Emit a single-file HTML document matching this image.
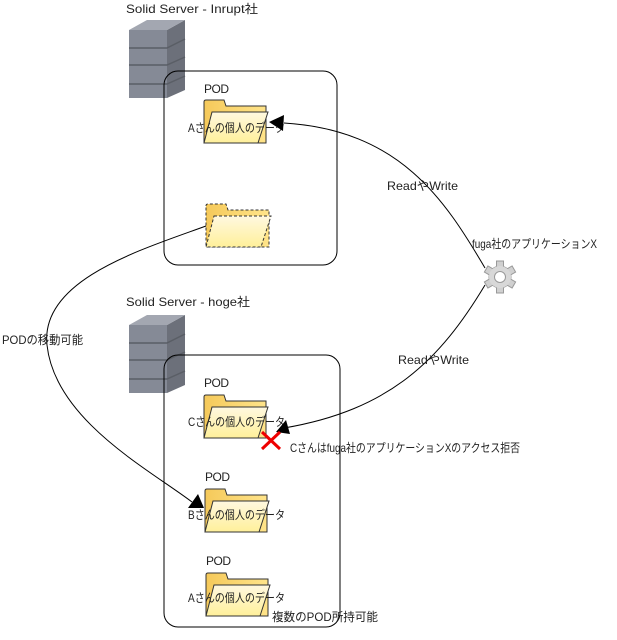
<!DOCTYPE html>
<html><head><meta charset="utf-8"><style>
body{margin:0;background:#fff;width:617px;height:635px;overflow:hidden;font-family:"Liberation Sans","Noto Sans CJK JP",sans-serif}
text{font-family:"Liberation Sans","Noto Sans CJK JP",sans-serif;font-size:12px;fill:#222}
</style></head><body>
<svg width="617" height="635" viewBox="0 0 617 635">
<defs>
<linearGradient id="fb" x1="0" y1="0" x2="1" y2="0"><stop offset="0" stop-color="#f5c95a"/><stop offset="1" stop-color="#ffe48a"/></linearGradient>
<linearGradient id="ff" x1="0" y1="0" x2="0" y2="1"><stop offset="0" stop-color="#fff8e0"/><stop offset="1" stop-color="#fff09a"/></linearGradient>
<g id="srv">
<polygon points="0,12 38,12 38,80 0,80" fill="#858a96"/>
<polygon points="38,12 56,2 56,72 38,80" fill="#6c707a"/>
<polygon points="0,12 18,2 56,2 38,12" fill="#a3a7b1"/>
<path d="M0,30H38L56,21M0,47H38L56,39M0,66H38L56,58" stroke="#5a5e66" stroke-width="1.5" fill="none"/>
</g>
<g id="fld">
<path d="M0,2 Q0,0 2,0 H20 L22,6 H62 V43 H0Z" fill="url(#fb)" stroke="#333" stroke-width="1"/>
<path d="M8,12 H64 L54,43 H0 Z" fill="url(#ff)" stroke="#333" stroke-width="1"/>
</g>
</defs>
<text x="126" y="13" textLength="132" lengthAdjust="spacingAndGlyphs">Solid Server - Inrupt社</text>
<use href="#srv" x="129" y="18"/>
<rect x="164" y="71" width="173" height="194" rx="14" fill="none" stroke="#000"/>
<text x="204" y="93" textLength="25">POD</text>
<use href="#fld" x="204" y="100"/>
<text x="188" y="132" textLength="97" lengthAdjust="spacingAndGlyphs">Aさんの個人のデータ</text>
<g stroke-dasharray="3,2">
<path d="M206,206 Q206,204 208,204 H226 L228,210 H269 V247 H206Z" fill="url(#fb)" stroke="#333"/>
<path d="M214,216 H271 L261,247 H206 Z" fill="url(#ff)" stroke="#333"/>
</g>

<text x="126" y="306" textLength="124" lengthAdjust="spacingAndGlyphs">Solid Server - hoge社</text>
<use href="#srv" x="129" y="313"/>
<rect x="164" y="355" width="176" height="272" rx="14" fill="none" stroke="#000"/>
<text x="204" y="387" textLength="25">POD</text>
<use href="#fld" x="204" y="395"/>
<text x="188" y="426" textLength="97" lengthAdjust="spacingAndGlyphs">Cさんの個人のデータ</text>
<text x="205" y="481" textLength="25">POD</text>
<use href="#fld" x="205" y="489"/>
<text x="188" y="519" textLength="97" lengthAdjust="spacingAndGlyphs">Bさんの個人のデータ</text>
<text x="206" y="565" textLength="25">POD</text>
<use href="#fld" x="206" y="573"/>
<text x="188" y="602" textLength="97" lengthAdjust="spacingAndGlyphs">Aさんの個人のデータ</text>
<text x="272" y="621" textLength="106" lengthAdjust="spacingAndGlyphs">複数のPOD所持可能</text>

<g transform="translate(500,277)">
<g fill="#d0d0d0" stroke="#999">
<circle r="11"/>
<rect x="-3.5" y="-16" width="7" height="32"/>
<rect x="-3.5" y="-16" width="7" height="32" transform="rotate(60)"/>
<rect x="-3.5" y="-16" width="7" height="32" transform="rotate(120)"/>
</g>
<circle r="11" fill="#d8d8d8"/>
<circle r="5.5" fill="#fff" stroke="#999"/>
</g>
<text x="472" y="248" textLength="125" lengthAdjust="spacingAndGlyphs">fuga社のアプリケーションX</text>

<path d="M485,268 C445,200 400,130 284,123" fill="none" stroke="#000"/>
<polygon points="269,122 284,115 283,131" fill="#000"/>
<text x="387" y="190" textLength="71" lengthAdjust="spacingAndGlyphs">ReadやWrite</text>
<path d="M485,285 C440,360 390,410 284,428" fill="none" stroke="#000"/>
<polygon points="276,432 286,420 290,434" fill="#000"/>
<text x="398" y="364" textLength="71" lengthAdjust="spacingAndGlyphs">ReadやWrite</text>
<path d="M262,432 L280,449 M280,432 L262,449" stroke="#e00" stroke-width="3"/>
<text x="290" y="452" textLength="230" lengthAdjust="spacingAndGlyphs">Cさんはfuga社のアプリケーションXのアクセス拒否</text>

<path d="M206,226 C140,250 40,280 47,345 C55,420 150,470 192,502" fill="none" stroke="#000"/>
<polygon points="204,508 188,508 198,494" fill="#000"/>
<text x="2" y="344" textLength="81" lengthAdjust="spacingAndGlyphs">PODの移動可能</text>
</svg>
</body></html>
